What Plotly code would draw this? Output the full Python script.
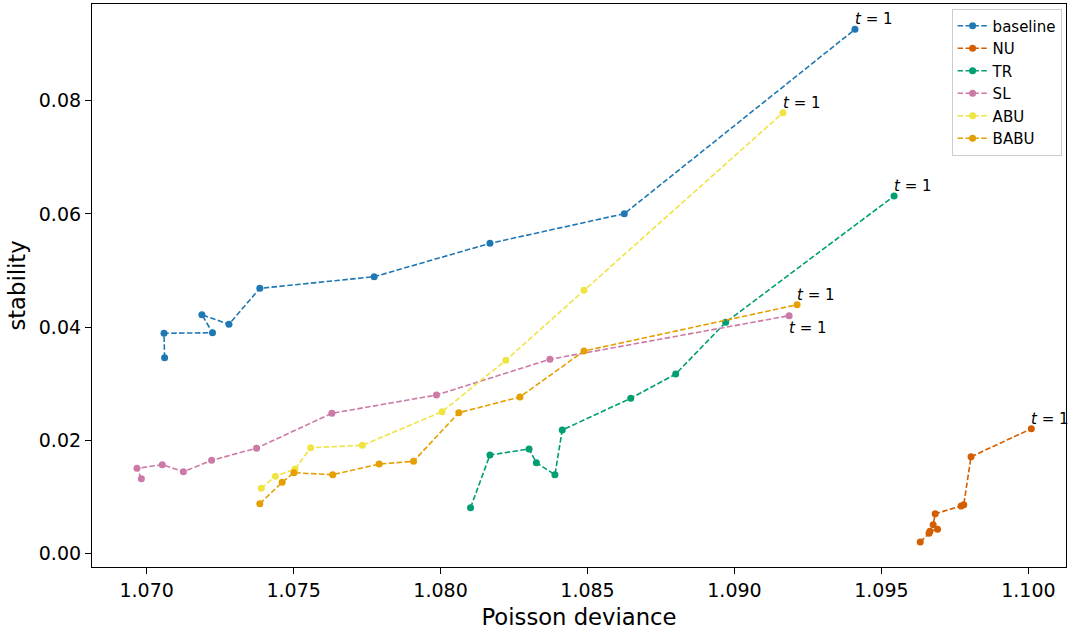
import plotly.graph_objects as go

series_names = ["baseline", "NU", "TR", "SL", "ABU", "BABU"]
series_colors = ["#1f77b4", "#d55e00", "#009e73", "#cc79a7", "#f0e442", "#e69f00"]

baseline_x = [1.07061, 1.07059, 1.07224, 1.07188, 1.07280, 1.07385, 1.07774, 1.08168, 1.08625, 1.09410]
baseline_y = [0.03457, 0.03889, 0.03899, 0.04217, 0.04048, 0.04684, 0.04889, 0.05479, 0.06003, 0.09262]

nu_x = [1.09632, 1.09662, 1.09665, 1.09691, 1.09676, 1.09683, 1.09771, 1.09780, 1.09805, 1.10010]
nu_y = [0.00200, 0.00354, 0.00390, 0.00424, 0.00506, 0.00700, 0.00836, 0.00859, 0.01707, 0.02202]

tr_x = [1.08102, 1.08168, 1.08301, 1.08326, 1.08389, 1.08414, 1.08647, 1.08800, 1.08970, 1.09543]
tr_y = [0.00806, 0.01738, 0.01844, 0.01601, 0.01389, 0.02179, 0.02740, 0.03169, 0.04083, 0.06316]

sl_x = [1.06982, 1.06967, 1.07053, 1.07125, 1.07221, 1.07374, 1.07630, 1.07986, 1.08372, 1.09186]
sl_y = [0.01319, 0.01502, 0.01566, 0.01442, 0.01644, 0.01858, 0.02475, 0.02798, 0.03429, 0.04200]

abu_x = [1.07390, 1.07438, 1.07505, 1.07558, 1.07734, 1.08005, 1.08222, 1.08488, 1.09165]
abu_y = [0.01149, 0.01361, 0.01490, 0.01867, 0.01909, 0.02503, 0.03411, 0.04649, 0.07788]

babu_x = [1.07385, 1.07461, 1.07501, 1.07633, 1.07791, 1.07908, 1.08062, 1.08270, 1.08488, 1.09213]
babu_y = [0.00877, 0.01255, 0.01425, 0.01389, 0.01578, 0.01626, 0.02485, 0.02763, 0.03576, 0.04394]

xs = [baseline_x, nu_x, tr_x, sl_x, abu_x, babu_x]
ys = [baseline_y, nu_y, tr_y, sl_y, abu_y, babu_y]
label_below = [False, False, False, True, False, False]

x_ticks = [1.070, 1.075, 1.080, 1.085, 1.090, 1.095, 1.100]
y_ticks = [0.00, 0.02, 0.04, 0.06, 0.08]

FONT = "DejaVu Sans"
fig = go.Figure()
for name, color, x, y in zip(series_names, series_colors, xs, ys):
    fig.add_trace(go.Scatter(
        x=x, y=y, name=name, mode="lines+markers",
        line=dict(color=color, width=1.6, dash="5.5px,2.4px"),
        marker=dict(color=color, size=7),
    ))

for x, y, below in zip(xs, ys, label_below):
    fig.add_annotation(
        x=x[-1], y=y[-1], text="<i>t</i> = 1", showarrow=False,
        xanchor="left", yanchor="top" if below else "bottom",
        xshift=-2, yshift=-1,
        font=dict(family=FONT, size=15, color="black"),
    )

fig.update_layout(
    width=1068, height=630,
    margin=dict(l=92, r=2, t=4, b=63),
    paper_bgcolor="white", plot_bgcolor="white",
    font=dict(family=FONT, size=19, color="black"),
    showlegend=True,
    legend=dict(
        x=0.9955, y=0.992, xanchor="right", yanchor="top",
        bgcolor="white", bordercolor="#cccccc", borderwidth=1,
        font=dict(family=FONT, size=15, color="black"),
        tracegroupgap=0, itemwidth=30,
    ),
)
fig.update_xaxes(
    range=[1.06814, 1.10128], tickvals=x_ticks,
    ticktext=[f"{v:.3f}" for v in x_ticks],
    showgrid=False, zeroline=False, showline=True, linecolor="black", linewidth=1.2,
    mirror=True, ticks="outside", ticklen=6, tickcolor="black",
    title=dict(text="Poisson deviance", font=dict(size=22.7), standoff=9),
    tickfont=dict(size=19), automargin=False,
)
fig.update_yaxes(
    range=[-0.00242, 0.0971], tickvals=y_ticks,
    ticktext=[f"{v:.2f}" for v in y_ticks],
    showgrid=False, zeroline=False, showline=True, linecolor="black", linewidth=1.2,
    mirror=True, ticks="outside", ticklen=6, tickcolor="black",
    title=dict(text="stability", font=dict(size=22.7), standoff=6),
    tickfont=dict(size=19), automargin=False,
)

fig.write_html("out.html")
